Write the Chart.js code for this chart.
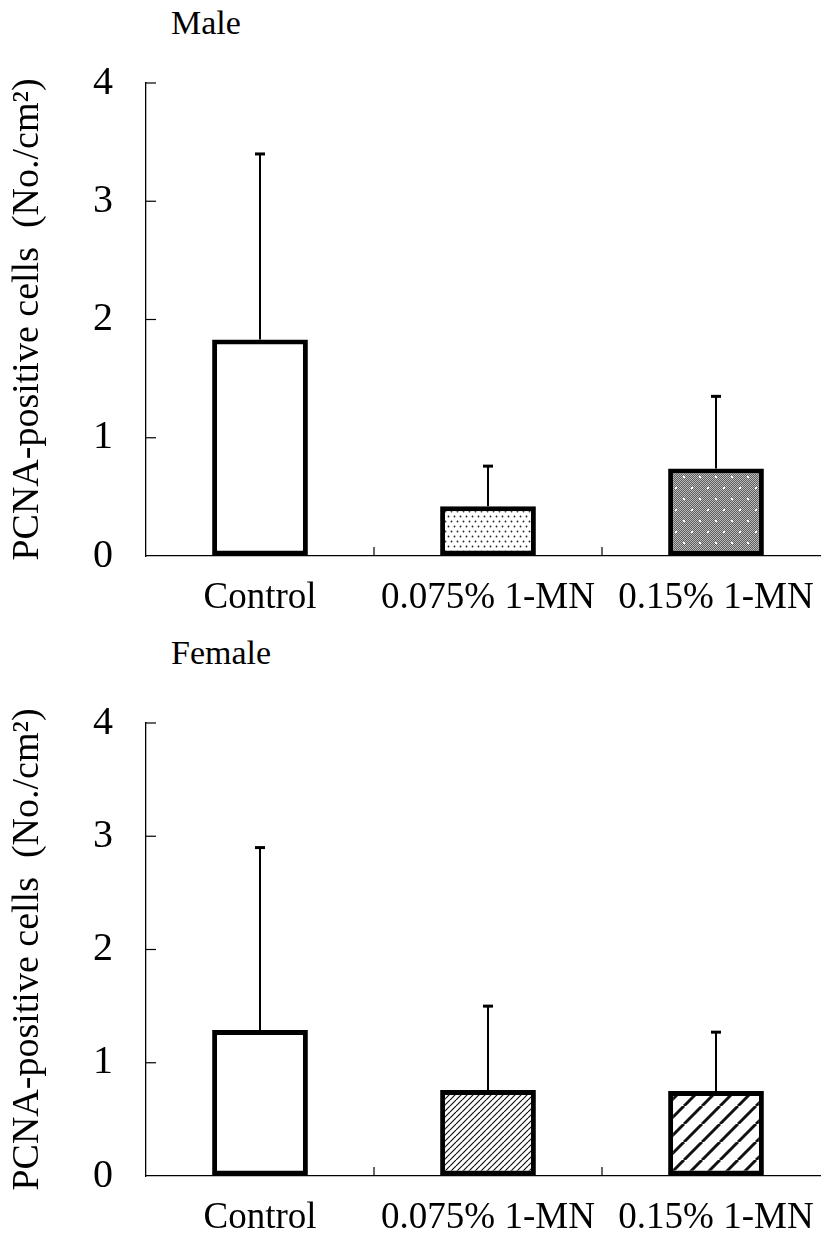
<!DOCTYPE html>
<html>
<head>
<meta charset="utf-8">
<script src="https://cdn.jsdelivr.net/npm/chart.js@4.4.0/dist/chart.umd.min.js"></script>
<style>
  body { margin: 0; width: 821px; height: 1241px; overflow: hidden; background: #fff; position: relative;
         font-family: 'Liberation Serif', 'Times New Roman', serif; }
  .panel-title { position: absolute; left: 171px; font-size: 34px; line-height: 34px; color: #000; }
  canvas { position: absolute; left: 0; }
</style>
</head>
<body>
<div class="panel-title" style="top:6px">Male</div>
<div class="panel-title" style="top:636px">Female</div>
<canvas id="maleChart" width="840" height="620" style="top:0"></canvas>
<canvas id="femaleChart" width="840" height="621" style="top:620px"></canvas>
<script>
// data
var groups = ['Control', '0.075% 1-MN', '0.15% 1-MN'];
var yTicks = [0, 1, 2, 3, 4];
var maleMean = [1.83, 0.42, 0.74];
var maleSD = [1.57, 0.34, 0.61];
var femaleMean = [1.29, 0.76, 0.75];
var femaleSD = [1.61, 0.74, 0.52];
var yTitle = 'PCNA-positive cells  (No./cm\u00B2)';

var serif = "'Liberation Serif', 'Times New Roman', serif";

// little fill patterns like the printed ones
function makePattern(target, w, h, draw) {
  var c = document.createElement('canvas');
  c.width = w; c.height = h;
  var g = c.getContext('2d');
  g.fillStyle = '#fff';
  g.fillRect(0, 0, w, h);
  draw(g, w, h);
  return target.getContext('2d').createPattern(c, 'repeat');
}
function dotsLight(g) {
  g.fillStyle = '#222';
  g.beginPath(); g.arc(1.5, 1.5, 0.9, 0, Math.PI * 2); g.fill();
  g.beginPath(); g.arc(4.5, 6.5, 0.9, 0, Math.PI * 2); g.fill();
}
function grayStipple(g, w, h) {
  for (var x = 0; x < w; x++) {
    for (var y = 0; y < h; y++) {
      g.fillStyle = (x + y) % 2 ? '#5c5c5c' : '#bcbcbc';
      g.fillRect(x, y, 1, 1);
    }
  }
  g.fillStyle = '#fff';
  g.fillRect(3, 3, 2, 2);
  g.fillRect(11, 14, 2, 2);
}
function hatch(lw) {
  return function (g, w, h) {
    g.strokeStyle = '#111';
    g.lineWidth = lw;
    for (var k = -1; k <= 1; k++) {
      g.beginPath();
      g.moveTo(k * w, h);
      g.lineTo(k * w + w, 0);
      g.stroke();
    }
  };
}

var errorBars = {
  id: 'errorBars',
  afterDatasetsDraw: function (chart) {
    var ctx = chart.ctx, y = chart.scales.y;
    var ds = chart.data.datasets[0];
    var meta = chart.getDatasetMeta(0);
    ctx.save();
    ctx.strokeStyle = '#000';
    meta.data.forEach(function (bar, i) {
      var top = y.getPixelForValue(ds.data[i] + ds.sd[i]);
      ctx.lineWidth = 2;
      ctx.beginPath(); ctx.moveTo(bar.x, bar.y); ctx.lineTo(bar.x, top); ctx.stroke();
      ctx.lineWidth = 3;
      ctx.beginPath(); ctx.moveTo(bar.x - 5, top); ctx.lineTo(bar.x + 5, top); ctx.stroke();
    });
    ctx.restore();
  }
};

// tick marks point inward in the original
var innerTicks = {
  id: 'innerTicks',
  afterDraw: function (chart) {
    var ctx = chart.ctx, area = chart.chartArea;
    var x = chart.scales.x, y = chart.scales.y;
    ctx.save();
    ctx.strokeStyle = '#000';
    ctx.lineWidth = 1.2;
    y.ticks.forEach(function (t) {
      if (t.value === 0) return;
      var py = y.getPixelForValue(t.value);
      ctx.beginPath(); ctx.moveTo(area.left, py); ctx.lineTo(area.left + 10, py); ctx.stroke();
    });
    for (var i = 1; i < groups.length; i++) {
      var px = (x.getPixelForValue(i - 1) + x.getPixelForValue(i)) / 2;
      ctx.beginPath(); ctx.moveTo(px, area.bottom); ctx.lineTo(px, area.bottom - 9); ctx.stroke();
    }
    ctx.restore();
  }
};

function panelConfig(mean, sd, fills, padTop, xHeight) {
  return {
    type: 'bar',
    data: {
      labels: groups,
      datasets: [{
        data: mean,
        sd: sd,
        backgroundColor: fills,
        borderColor: '#000',
        borderWidth: 5,
        borderSkipped: false,
        barPercentage: 0.42,
        categoryPercentage: 1
      }]
    },
    options: {
      responsive: false,
      animation: false,
      devicePixelRatio: 1,
      layout: { padding: { top: padTop, right: 10, bottom: 0, left: 0 } },
      plugins: { legend: { display: false }, tooltip: { enabled: false } },
      scales: {
        x: {
          grid: { drawOnChartArea: false, drawTicks: false },
          border: { display: true, color: '#000', width: 1.3 },
          ticks: { color: '#000', font: { family: serif, size: 37 }, padding: 20, maxRotation: 0, autoSkip: false },
          afterFit: function (s) { s.height = xHeight; }
        },
        y: {
          min: 0, max: 4,
          afterBuildTicks: function (s) { s.ticks = yTicks.map(function (v) { return { value: v }; }); },
          grid: { drawOnChartArea: false, drawTicks: false },
          border: { display: true, color: '#000', width: 1.3 },
          ticks: { color: '#000', font: { family: serif, size: 40 }, padding: 33 },
          title: { display: true, text: yTitle, color: '#000', font: { family: serif, size: 38 }, padding: { top: 5, bottom: 0 } },
          afterFit: function (s) { s.width = 146; }
        }
      }
    },
    plugins: [errorBars, innerTicks]
  };
}

var maleCanvas = document.getElementById('maleChart');
var femaleCanvas = document.getElementById('femaleChart');

var maleFills = ['#fff',
  makePattern(maleCanvas, 6, 10, dotsLight),
  makePattern(maleCanvas, 16, 22, grayStipple)];
var femaleFills = ['#fff',
  makePattern(femaleCanvas, 6, 6, hatch(1.2)),
  makePattern(femaleCanvas, 18, 18, hatch(3))];

new Chart(maleCanvas, panelConfig(maleMean, maleSD, maleFills, 83, 64));
new Chart(femaleCanvas, panelConfig(femaleMean, femaleSD, femaleFills, 103, 65));
</script>
</body>
</html>
